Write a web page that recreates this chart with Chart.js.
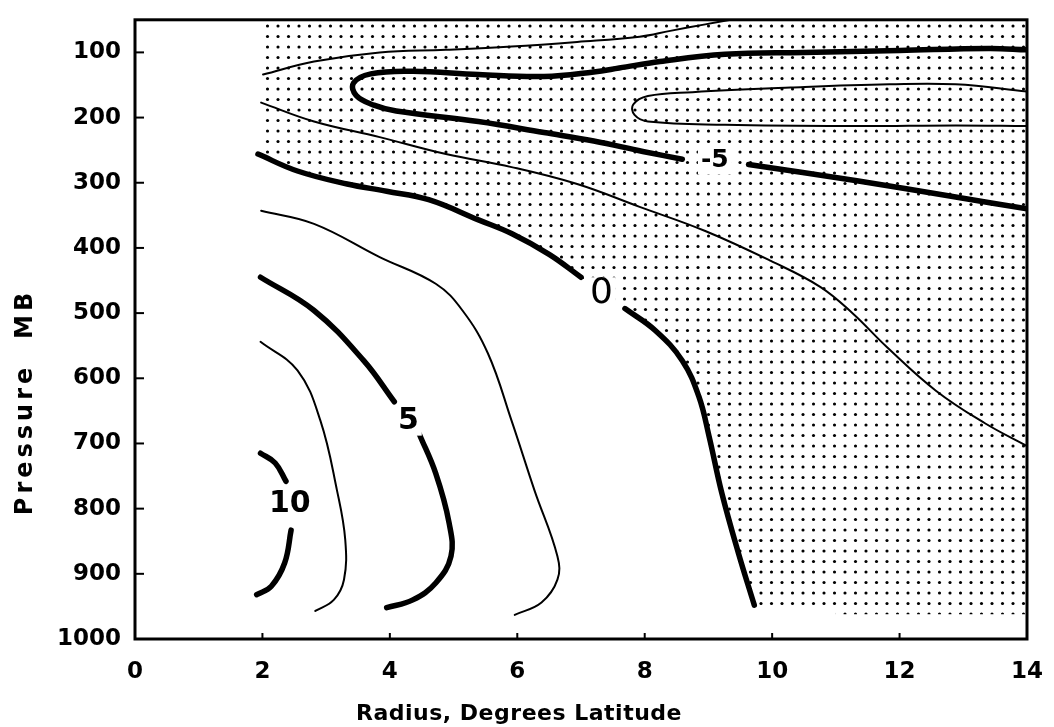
<!DOCTYPE html>
<html>
<head>
<meta charset="utf-8">
<script src="https://cdn.jsdelivr.net/npm/chart.js@4.4.0/dist/chart.umd.min.js"></script>
<style>
  html, body { margin: 0; padding: 0; background: #fff; }
  canvas { display: block; }
</style>
</head>
<body>
<canvas id="chart" width="1054" height="727"></canvas>
<script>
// axis ticks
const xTicks = [0, 2, 4, 6, 8, 10, 12, 14];
const yTicks = [100, 200, 300, 400, 500, 600, 700, 800, 900, 1000];

// contours, [radius (deg lat), pressure (mb)]
const upperThin = [[2.01,134],[2.81,114],[3.84,100],[4.88,96],[5.91,91],[6.94,84],[7.92,76],[8.4,67],[8.95,57],[9.35,50]];
const minus5a = [[14,96],[13.4,94],[12,97],[10.5,100],[9.26,103],[8.24,114],[7.6,124],[7.2,130],[6.42,137],[5.39,134],
                 [4.36,129],[3.7,133],[3.43,147],[3.47,166],[3.75,181],[4.1,190],[5.39,206],[6.42,223],[7.2,236],[7.97,252],[8.59,264]];
const minus5b = [[9.63,272],[11.33,297],[12.88,322],[14,340]];
const minus75 = [[14,160],[12.88,149],[11.84,149],[10.29,154],[8.75,161],[8.05,167],[7.82,180],[7.84,196],[8.05,206],
                 [9.26,211],[11.33,213],[12.88,212],[14,213]];
const lowerThin = [[1.98,177],[2.81,206],[3.84,230],[4.88,256],[5.91,276],[6.94,302],[7.92,337],[8.95,374],[9.98,420],
                   [10.76,460],[11.27,501],[11.8,552],[12.57,619],[13.34,669],[14,704]];
const zeroA = [[1.93,256],[2.55,282],[3.33,302],[3.95,313],[4.61,326],[5.39,357],[5.91,378],[6.5,410],[7.0,445]];
const zeroB = [[7.69,493],[8.17,527],[8.59,573],[8.85,628],[9.01,689],[9.21,776],[9.47,868],[9.72,948]];
const plus25 = [[1.98,343],[2.81,363],[3.84,414],[4.72,455],[5.14,496],[5.54,562],[5.91,665],[6.27,772],[6.63,873],
                [6.63,909],[6.38,944],[5.96,963]];
const plus5a = [[1.97,445],[2.81,496],[3.59,573],[4.07,636]];
const plus5b = [[4.46,685],[4.72,746],[4.93,822],[4.96,873],[4.72,914],[4.36,940],[3.95,952]];
const plus75 = [[1.97,544],[2.55,588],[2.91,665],[3.17,772],[3.3,848],[3.28,909],[3.12,940],[2.83,957]];
const plus10a = [[1.97,715],[2.2,730],[2.37,758]];
const plus10b = [[2.45,833],[2.35,883],[2.14,919],[1.91,932]];

// stippled (negative) area outline
const stippleEdge = [[2,50],[2,256],[2.55,282],[3.33,302],[3.95,313],[4.61,326],[5.39,357],[5.91,378],[6.5,410],[7.0,445],
                     [7.69,493],[8.17,527],[8.59,573],[8.85,628],[9.01,689],[9.21,776],[9.47,868],[9.72,948],
                     [11,950],[11,962],[14,962],[14,50],[2,50]];

// contour labels
const labelText = ['-5', '0', '5', '10'];
const labelX = [9.1, 7.32, 4.29, 2.43];
const labelP = [264, 468, 665, 791];
const labelFont = ['bold 25px "DejaVu Sans"', '36px "DejaVu Sans"', 'bold 30px "DejaVu Sans"', 'bold 30px "DejaVu Sans"'];

const FONT = '"DejaVu Sans"';
const ctx = document.getElementById('chart').getContext('2d');

function dotPattern() {
    const c = document.createElement('canvas');
    c.width = 21;
    c.height = 21;
    const g = c.getContext('2d');
    g.fillStyle = '#000';
    [[5, 5], [15.5, 5], [5, 15.5], [15.5, 15.5]].forEach(([x, y]) => {
        g.beginPath();
        g.arc(x, y, 1.55, 0, Math.PI * 2);
        g.fill();
    });
    return ctx.createPattern(c, 'repeat');
}

const pts = arr => arr.map(([x, p]) => ({ x: x, y: p }));

function contour(arr, thick) {
    return {
        data: pts(arr),
        showLine: true,
        borderColor: '#000',
        borderWidth: thick ? 5.5 : 2,
        borderCapStyle: 'round',
        borderJoinStyle: 'round',
        tension: 0.4,
        pointRadius: 0,
        fill: false,
        order: 1
    };
}

// frame + inward tick marks
const framePlugin = {
    id: 'frame',
    afterDraw(chart) {
        const a = chart.chartArea;
        const c = chart.ctx;
        c.save();
        c.strokeStyle = '#000';
        c.lineWidth = 3;
        c.strokeRect(a.left, a.top, a.right - a.left, a.bottom - a.top);
        c.lineWidth = 2;
        const xs = chart.scales.x, ys = chart.scales.y;
        xs.ticks.forEach(t => {
            if (t.value <= 0 || t.value >= 14) return;
            const px = xs.getPixelForValue(t.value);
            c.beginPath(); c.moveTo(px, a.bottom); c.lineTo(px, a.bottom - 6); c.stroke();
        });
        ys.ticks.forEach(t => {
            if (t.value >= 1000) return;
            const py = ys.getPixelForValue(t.value);
            c.beginPath(); c.moveTo(a.left, py); c.lineTo(a.left + 9, py); c.stroke();
        });
        c.restore();
    }
};

// contour values and axis titles
const textPlugin = {
    id: 'texts',
    afterDatasetsDraw(chart) {
        const c = chart.ctx;
        const xs = chart.scales.x, ys = chart.scales.y;
        c.save();
        c.textAlign = 'center';
        c.textBaseline = 'middle';
        labelText.forEach((t, i) => {
            const px = xs.getPixelForValue(labelX[i]);
            const py = ys.getPixelForValue(labelP[i]);
            c.font = labelFont[i];
            const w = c.measureText(t).width;
            c.fillStyle = '#fff';
            c.fillRect(px - w / 2 - 3, py - 15, w + 6, 30);
            c.fillStyle = '#000';
            c.fillText(t, px, py + 1);
        });
        c.restore();
    },
    afterDraw(chart) {
        const c = chart.ctx;
        c.save();
        c.fillStyle = '#000';
        c.textAlign = 'center';
        c.textBaseline = 'alphabetic';
        c.font = 'bold 22px ' + FONT;
        c.letterSpacing = '0.5px';
        c.fillText('Radius, Degrees Latitude', 519, 720);
        c.translate(32, 402);
        c.rotate(-Math.PI / 2);
        c.font = 'bold 24px ' + FONT;
        c.letterSpacing = '4px';
        c.fillText('Pressure  MB', 0, 0);
        c.restore();
    }
};

new Chart(ctx, {
    type: 'scatter',
    data: {
        datasets: [
            contour(upperThin, false),
            contour(minus5a, true),
            contour(minus5b, true),
            contour(minus75, false),
            contour(lowerThin, false),
            contour(zeroA, true),
            contour(zeroB, true),
            contour(plus25, false),
            contour(plus5a, true),
            contour(plus5b, true),
            contour(plus75, false),
            contour(plus10a, true),
            contour(plus10b, true),
            {
                data: pts(stippleEdge),
                showLine: true,
                borderColor: 'rgba(0,0,0,0)',
                borderWidth: 1,
                backgroundColor: dotPattern(),
                fill: 'shape',
                tension: 0,
                pointRadius: 0,
                order: 10
            }
        ]
    },
    options: {
        responsive: false,
        animation: false,
        devicePixelRatio: 1,
        layout: { padding: { top: 15, right: 14, left: 0, bottom: 0 } },
        plugins: {
            legend: { display: false },
            tooltip: { enabled: false }
        },
        scales: {
            x: {
                type: 'linear',
                min: 0,
                max: 14,
                afterBuildTicks: s => { s.ticks = xTicks.map(v => ({ value: v })); },
                afterFit: s => { s.height = 88; },
                grid: { display: false },
                border: { display: false },
                ticks: {
                    color: '#000',
                    padding: 11,
                    maxRotation: 0,
                    autoSkip: false,
                    callback: v => String(v),
                    font: { family: FONT, size: 23, weight: 'bold' }
                }
            },
            y: {
                type: 'linear',
                reverse: true,
                min: 50,
                max: 1000,
                afterBuildTicks: s => { s.ticks = yTicks.map(v => ({ value: v })); },
                afterFit: s => { s.width = 135; },
                grid: { display: false },
                border: { display: false },
                ticks: {
                    color: '#000',
                    padding: 6,
                    autoSkip: false,
                    callback: v => String(v),
                    font: { family: FONT, size: 23, weight: 'bold' }
                }
            }
        }
    },
    plugins: [framePlugin, textPlugin]
});
</script>
</body>
</html>
